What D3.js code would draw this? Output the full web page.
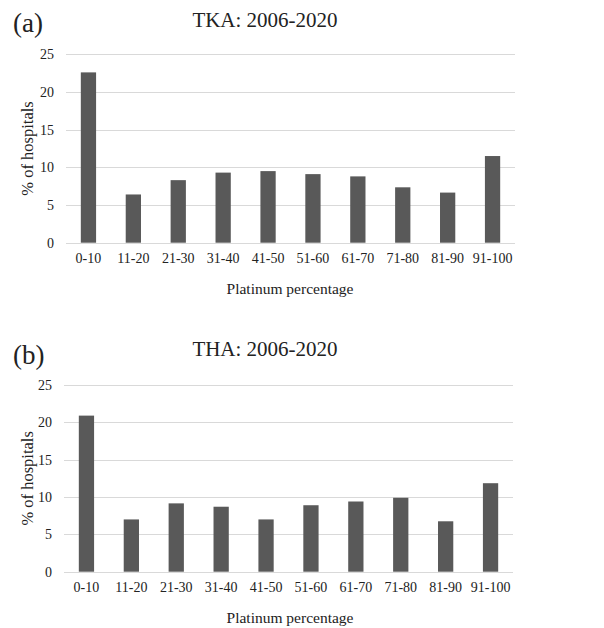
<!DOCTYPE html>
<html>
<head>
<meta charset="utf-8">
<script src="https://cdn.jsdelivr.net/npm/d3@7"></script>
<style>
  body { margin: 0; background: #fff; }
  text { font-family: "Liberation Serif", "Times New Roman", serif; fill: #222; }
</style>
</head>
<body>
<svg id="chart" width="604" height="628"></svg>
<script>
// data
var categories = ["0-10", "11-20", "21-30", "31-40", "41-50", "51-60", "61-70", "71-80", "81-90", "91-100"];
var tkaValues = [22.6, 6.4, 8.3, 9.3, 9.5, 9.1, 8.8, 7.35, 6.65, 11.5];
var thaValues = [20.9, 7.0, 9.15, 8.7, 7.0, 8.9, 9.4, 9.9, 6.75, 11.85];
var yTicks = [0, 5, 10, 15, 20, 25];

var svg = d3.select("#chart");

function drawPanel(opts) {
  var g = svg.append("g").attr("transform", "translate(0," + opts.top + ")");

  var x = d3.scaleBand()
      .domain(categories)
      .range([opts.x0, opts.x1])
      .paddingInner(0.66)
      .paddingOuter(0.33);

  var y = d3.scaleLinear()
      .domain([0, 25])
      .range([opts.y0, opts.y1]);

  // gridlines
  g.selectAll(".grid")
    .data(yTicks)
    .enter().append("line")
      .attr("x1", opts.x0)
      .attr("x2", opts.x1)
      .attr("y1", function(d) { return Math.round(y(d)) + 0.5; })
      .attr("y2", function(d) { return Math.round(y(d)) + 0.5; })
      .attr("stroke", "#d9d9d9")
      .attr("stroke-width", 1);

  // y axis labels
  var yAxis = d3.axisLeft(y).tickValues(yTicks).tickSize(0).tickPadding(12);
  var ya = g.append("g").attr("transform", "translate(" + opts.x0 + ",0)").call(yAxis);
  ya.select(".domain").remove();
  ya.selectAll("text").style("font-size", "14px").style("font-family", "Liberation Serif").attr("fill", "#222");

  // bars
  g.selectAll(".bar")
    .data(opts.values)
    .enter().append("rect")
      .attr("x", function(d, i) { return x(categories[i]); })
      .attr("width", x.bandwidth())
      .attr("y", function(d) { return y(d); })
      .attr("height", function(d) { return y(0) - y(d); })
      .attr("fill", "#595959");

  // x axis labels
  var xAxis = d3.axisBottom(x).tickSize(0).tickPadding(10);
  var xa = g.append("g").attr("transform", "translate(0," + opts.y0 + ")").call(xAxis);
  xa.select(".domain").remove();
  xa.selectAll("text").style("font-size", "14px").style("font-family", "Liberation Serif").attr("fill", "#222");

  // titles
  g.append("text")
    .attr("x", 13)
    .attr("y", opts.tagY)
    .style("font-size", "27px")
    .text(opts.tag);

  g.append("text")
    .attr("x", 265)
    .attr("y", opts.titleY)
    .attr("text-anchor", "middle")
    .style("font-size", "21px")
    .text(opts.title);

  g.append("text")
    .attr("x", 290)
    .attr("y", opts.y0 + 51)
    .attr("text-anchor", "middle")
    .style("font-size", "15.5px")
    .text("Platinum percentage");

  g.append("text")
    .attr("transform", "translate(" + 33 + "," + (opts.y0 + opts.y1) / 2 + ") rotate(-90)")
    .attr("text-anchor", "middle")
    .style("font-size", "16.5px")
    .text("% of hospitals");
}

drawPanel({ top: 0, x0: 66, x1: 515, y0: 242.7, y1: 54.3, values: tkaValues,
  tag: "(a)", tagY: 32, title: "TKA: 2006-2020", titleY: 27 });
drawPanel({ top: 314, x0: 64, x1: 513, y0: 257.7, y1: 71, values: thaValues,
  tag: "(b)", tagY: 50, title: "THA: 2006-2020", titleY: 42 });
</script>
</body>
</html>
